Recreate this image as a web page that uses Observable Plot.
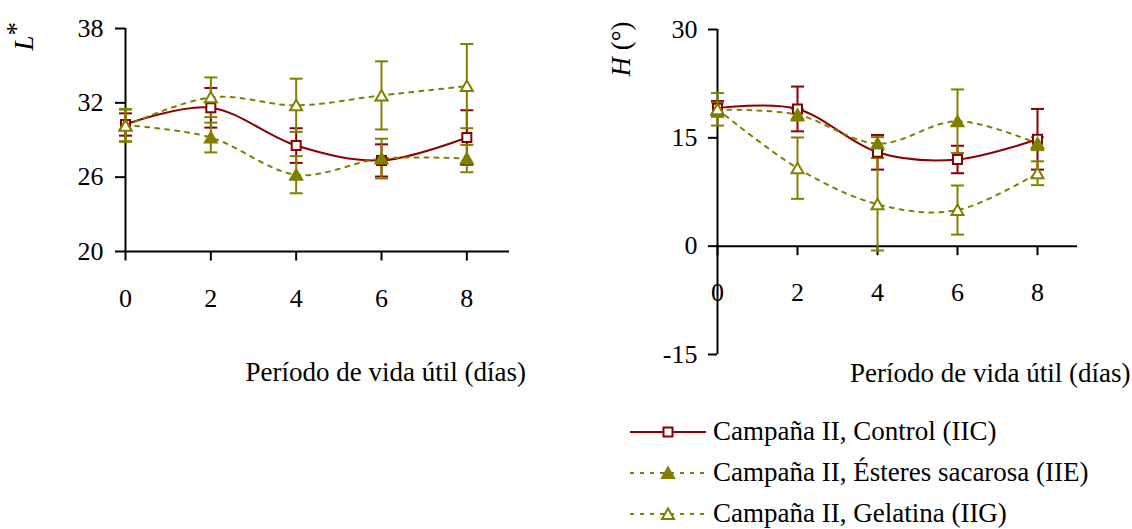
<!DOCTYPE html>
<html>
<head>
<meta charset="utf-8">
<script src="https://cdn.jsdelivr.net/npm/d3@7"></script>
<script src="https://cdn.jsdelivr.net/npm/@observablehq/plot@0.6"></script>
<style>
  html, body { margin: 0; padding: 0; background: #fff; }
  #wrap { position: relative; width: 1132px; height: 529px; overflow: hidden; background: #fff; font-family: "Liberation Serif", "Times New Roman", serif; }
  #left { position: absolute; left: 0; top: 0; }
  #right { position: absolute; left: 580px; top: 0; }
  #legend { position: absolute; left: 628px; top: 411px; font-size: 27px; color: #000; }
  .row { height: 41px; display: flex; align-items: center; white-space: nowrap; }
  .row svg { width: 80px; height: 20px; margin-right: 5px; flex: none; }
  svg text { font-family: "Liberation Serif", "Times New Roman", serif; }
</style>
</head>
<body>
<div id="wrap">
  <div id="left"></div>
  <div id="right"></div>
  <div id="legend"></div>
</div>
<script>
// ---------- data ----------
const days = [0, 2, 4, 6, 8];
const seriesNames = [
  "Campaña II, Control (IIC)",
  "Campaña II, Ésteres sacarosa (IIE)",
  "Campaña II, Gelatina (IIG)"
];
// L* panel
const L_IIC    = [30.25, 31.6, 28.55, 27.35, 29.2];
const L_IIC_sd = [0.9, 1.6, 1.4, 1.3, 2.2];
const L_IIE    = [30.2, 29.2, 26.2, 27.5, 27.5];
const L_IIE_sd = [1.3, 1.2, 1.5, 1.6, 1.1];
const L_IIG    = [30.15, 32.45, 31.8, 32.6, 33.35];
const L_IIG_sd = [1.3, 1.6, 2.15, 2.75, 3.4];
// H (°) panel
const H_IIC    = [19.1, 19.0, 13.0, 12.0, 14.8];
const H_IIC_sd = [1.0, 3.1, 2.4, 1.9, 4.2];
const H_IIE    = [18.9, 18.2, 14.2, 17.3, 14.2];
const H_IIE_sd = [1.0, 0.8, 0.9, 4.4, 0.9];
const H_IIG    = [18.95, 10.8, 5.8, 5.0, 10.1];
const H_IIG_sd = [2.25, 4.25, 6.4, 3.4, 1.65];
// axes
const L_ticks = [20, 26, 32, 38];
const H_ticks = [-15, 0, 15, 30];
const xLabel = "Período de vida útil (días)";

// ---------- styles ----------
const RED = "#8b0000";
const OLIVE = "#808000";
const FONT = "Liberation Serif";

const capSym = { draw(ctx) { ctx.moveTo(-6.5, 0); ctx.lineTo(6.5, 0); } };
const xTickSym = { draw(ctx) { ctx.moveTo(0, 0); ctx.lineTo(0, 9); } };
const squareSym = { draw(ctx) { ctx.moveTo(-4.5, -4.5); ctx.lineTo(4.5, -4.5); ctx.lineTo(4.5, 4.5); ctx.lineTo(-4.5, 4.5); ctx.closePath(); } };
const triSym = { draw(ctx) { ctx.moveTo(0, -5.5); ctx.lineTo(6, 5); ctx.lineTo(-6, 5); ctx.closePath(); } };

function rows(vals, sds) { return days.map((d, i) => ({ day: d, v: vals[i], sd: sds[i] })); }

function seriesDefs(a, asd, b, bsd, c, csd) {
  return [
    { rows: rows(a, asd), color: RED, dash: null, sym: squareSym, fill: "white" },
    { rows: rows(b, bsd), color: OLIVE, dash: "4,6", sym: triSym, fill: OLIVE },
    { rows: rows(c, csd), color: OLIVE, dash: "4,6", sym: triSym, fill: "white" }
  ];
}

function dataMarks(series) {
  const m = [];
  for (const s of series) {
    m.push(Plot.ruleX(s.rows, { x: "day", y1: d => d.v - d.sd, y2: d => d.v + d.sd, stroke: s.color, strokeWidth: 2 }));
    m.push(Plot.dot(s.rows, { x: "day", y: d => d.v + d.sd, symbol: capSym, stroke: s.color, fill: "none", strokeWidth: 2 }));
    m.push(Plot.dot(s.rows, { x: "day", y: d => d.v - d.sd, symbol: capSym, stroke: s.color, fill: "none", strokeWidth: 2 }));
  }
  for (const s of series) {
    m.push(Plot.line(s.rows, { x: "day", y: "v", curve: "cardinal", stroke: s.color, strokeWidth: 2, strokeDasharray: s.dash || undefined }));
  }
  for (const s of series) {
    m.push(Plot.dot(s.rows, { x: "day", y: "v", symbol: s.sym, stroke: s.color, fill: s.fill, strokeWidth: 2 }));
  }
  return m;
}

function axisMarks(yTicks, yAxisAt, tickSize, tickPad) {
  const y0 = yTicks[0], y1 = yTicks[yTicks.length - 1];
  return [
    Plot.axisY({ ticks: yTicks, tickSize: tickSize, tickPadding: tickPad, tickFormat: d => String(d), fontSize: 26, strokeWidth: 2, label: null }),
    Plot.ruleX([0], { y1: y0, y2: y1, stroke: "black", strokeWidth: 2 }),
    Plot.ruleY([yAxisAt], { x1: 0, x2: 9, stroke: "black", strokeWidth: 2 }),
    Plot.dot(days, { x: d => d, y: yAxisAt, symbol: xTickSym, stroke: "black", fill: "none", strokeWidth: 2 }),
    Plot.text(days, { x: d => d, y: yAxisAt, text: d => String(d), dy: 47, fontSize: 26, lineAnchor: "middle", fill: "black" })
  ];
}

// ---------- left panel ----------
const left = Plot.plot({
  width: 540, height: 390,
  marginLeft: 125, marginRight: 31, marginTop: 28, marginBottom: 139,
  x: { domain: [0, 9], axis: null },
  y: { domain: [20, 38], axis: null },
  style: { fontFamily: FONT, fontSize: "26px", background: "transparent", overflow: "visible", color: "black" },
  marks: [
    ...axisMarks(L_ticks, 20, 10, 12),
    ...dataMarks(seriesDefs(L_IIC, L_IIC_sd, L_IIE, L_IIE_sd, L_IIG, L_IIG_sd)),
    Plot.text(["L*"], { frameAnchor: "top-left", text: d => d, rotate: -90, textAnchor: "start", lineAnchor: "middle", dx: -101, dy: 22, fontSize: 27, fill: "black" }),
    Plot.text([xLabel], { frameAnchor: "bottom-left", text: d => d, textAnchor: "start", lineAnchor: "middle", dx: 120, dy: 121, fontSize: 27, fill: "black" })
  ]
});
document.getElementById("left").appendChild(left);

// ---------- right panel ----------
const right = Plot.plot({
  width: 552, height: 390,
  marginLeft: 137, marginRight: 55, marginTop: 29, marginBottom: 36,
  x: { domain: [0, 9], axis: null },
  y: { domain: [-15, 30], axis: null },
  style: { fontFamily: FONT, fontSize: "26px", background: "transparent", overflow: "visible", color: "black" },
  marks: [
    ...axisMarks(H_ticks, 0, 9, 11),
    ...dataMarks(seriesDefs(H_IIC, H_IIC_sd, H_IIE, H_IIE_sd, H_IIG, H_IIG_sd)),
    Plot.text(["H (°)"], { frameAnchor: "top-left", text: d => d, rotate: -90, textAnchor: "start", lineAnchor: "middle", dx: -96, dy: 47, fontSize: 27, fill: "black" }),
    Plot.text([xLabel], { frameAnchor: "bottom-right", text: d => d, textAnchor: "end", lineAnchor: "middle", dx: 53, dy: 19, fontSize: 27, fill: "black" })
  ]
});
document.getElementById("right").appendChild(right);

// italic variable letters in y labels
d3.selectAll("svg text").each(function () {
  const t = this.textContent;
  if (t === "L*") {
    this.textContent = "";
    d3.select(this).append("tspan").attr("font-style", "italic").text("L");
    d3.select(this).append("tspan").attr("dy", "-0.3em").text("*");
  } else if (t === "H (°)") {
    this.textContent = "";
    d3.select(this).append("tspan").attr("font-style", "italic").text("H");
    d3.select(this).append("tspan").text(" (°)");
  }
});

// ---------- legend ----------
const legendStyles = [
  { color: RED, dash: null, sym: "square", fill: "white" },
  { color: OLIVE, dash: "4,6", sym: "tri", fill: OLIVE },
  { color: OLIVE, dash: "4,6", sym: "tri", fill: "white" }
];
const legend = d3.select("#legend");
seriesNames.forEach((name, i) => {
  const st = legendStyles[i];
  const row = legend.append("div").attr("class", "row");
  const s = row.append("svg").attr("viewBox", "0 0 80 20");
  s.append("line").attr("x1", 2).attr("x2", 78).attr("y1", 10).attr("y2", 10)
    .attr("stroke", st.color).attr("stroke-width", 2).attr("stroke-dasharray", st.dash);
  if (st.sym === "square") {
    s.append("rect").attr("x", 35.5).attr("y", 5.5).attr("width", 9).attr("height", 9)
      .attr("fill", st.fill).attr("stroke", st.color).attr("stroke-width", 2);
  } else {
    s.append("path").attr("d", "M40,4.5L46,15L34,15Z")
      .attr("fill", st.fill).attr("stroke", st.color).attr("stroke-width", 2);
  }
  row.append("span").text(name);
});
</script>
</body>
</html>
